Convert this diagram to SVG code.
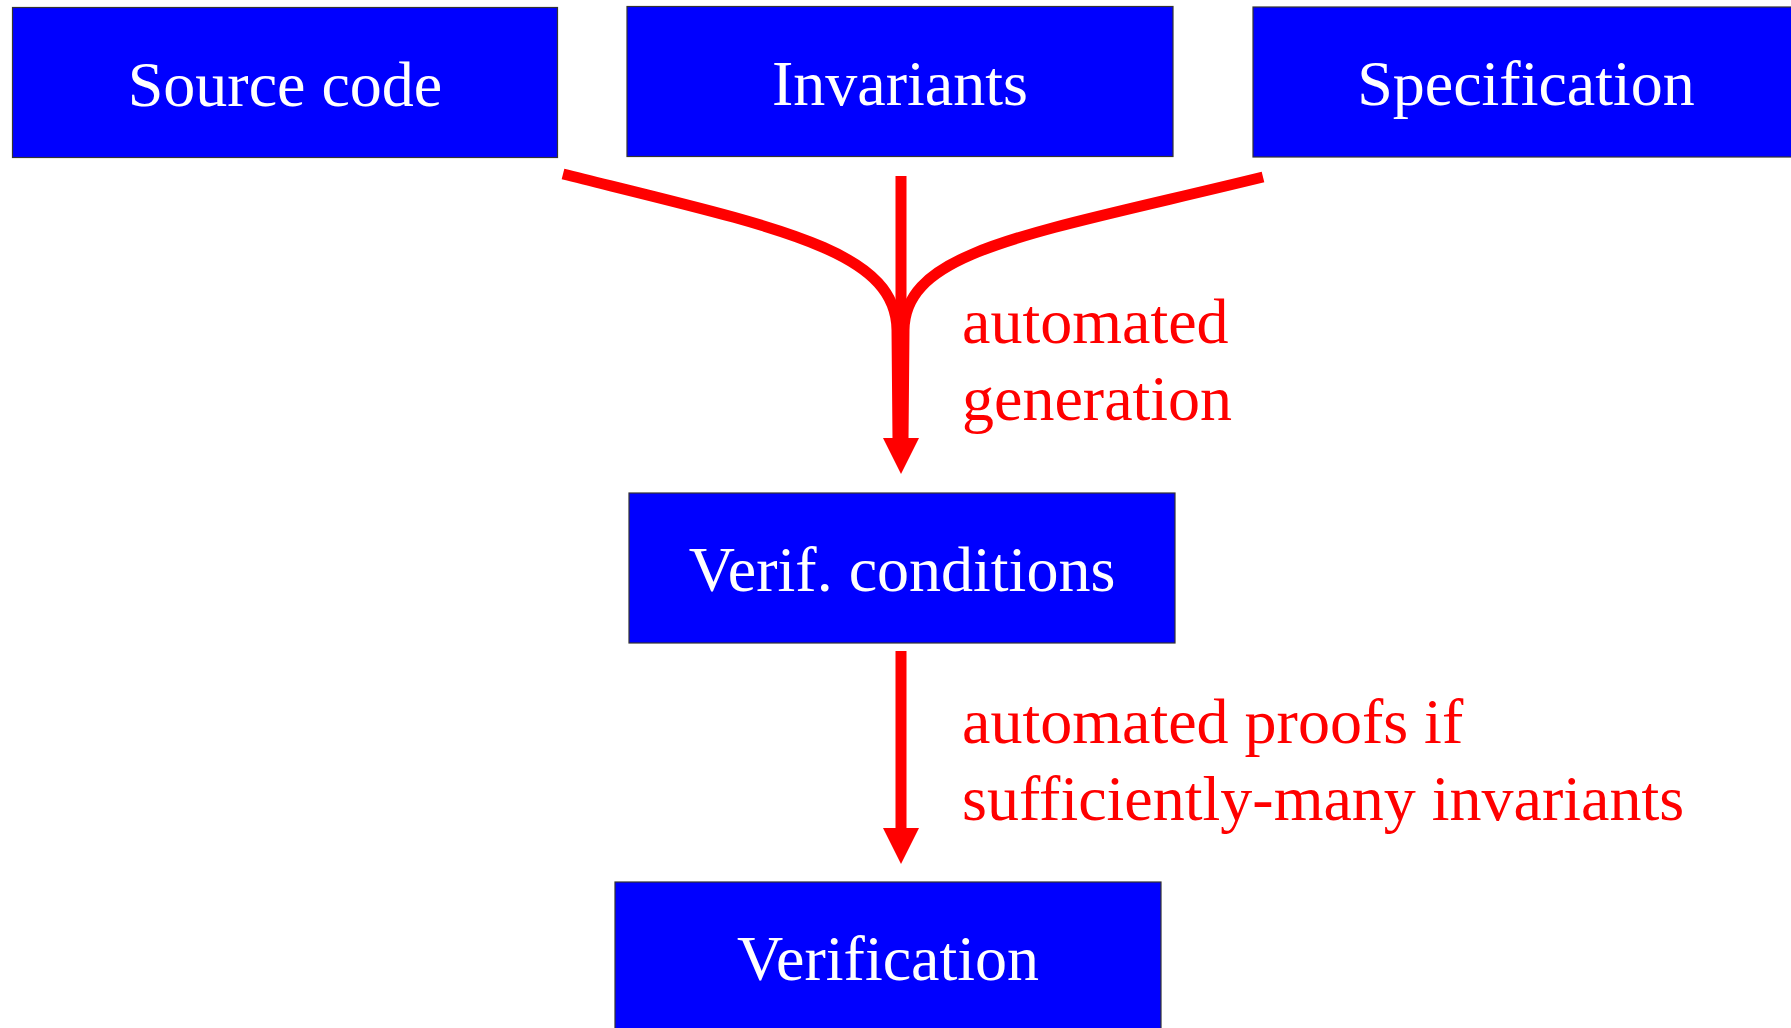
<svg xmlns="http://www.w3.org/2000/svg" width="1791" height="1028" viewBox="0 0 1791 1028">
  <style>
    .box { fill: #0000FF; stroke: #333333; stroke-width: 1.2; }
    .box-label { font-family: "Liberation Serif", "Times New Roman", serif; font-size: 64px; fill: #FFFFFF; text-anchor: middle; }
    .edge-label { font-family: "Liberation Serif", "Times New Roman", serif; font-size: 64px; fill: #FF0000; }
    .flow { fill: none; stroke: #FF0000; stroke-width: 11; }
    .stem { fill: none; stroke: #FF0000; stroke-width: 11; }
    .head { fill: #FF0000; }
  </style>
  <rect width="1791" height="1028" fill="#FFFFFF"/>

  <g id="source-code">
    <rect class="box" x="12.5" y="7.5" width="545" height="150"/>
    <text class="box-label" x="285" y="106">Source code</text>
  </g>

  <g id="invariants">
    <rect class="box" x="627" y="6.5" width="546" height="150"/>
    <text class="box-label" x="900" y="105">Invariants</text>
  </g>

  <g id="specification">
    <rect class="box" x="1253" y="7" width="546" height="150"/>
    <text class="box-label" x="1526" y="105">Specification</text>
  </g>

  <g id="verif-conditions">
    <rect class="box" x="629" y="493" width="546" height="150"/>
    <text class="box-label" x="902" y="591">Verif. conditions</text>
  </g>

  <g id="verification">
    <rect class="box" x="615" y="882" width="546" height="160"/>
    <text class="box-label" x="888" y="980">Verification</text>
  </g>

  <g id="connectors">
    <!-- three inputs merging into one stem -->
    <path class="flow" d="M563,174 C780,228 896,250 897,330 L898,440"/>
    <path class="flow" d="M1263,177 C1030,234 905,250 904,330 L903,440"/>
    <path class="stem" d="M901,176 L901,440"/>
    <polygon class="head" points="883,438 919,438 901,474"/>

    <!-- verification conditions to verification -->
    <path class="stem" d="M901,651 L901,830"/>
    <polygon class="head" points="883,828 919,828 901,864"/>

    <text class="edge-label" x="962" y="343">automated</text>
    <text class="edge-label" x="962" y="420">generation</text>
    <text class="edge-label" x="962" y="743">automated proofs if</text>
    <text class="edge-label" x="962" y="820">sufficiently-many invariants</text>
  </g>
</svg>
